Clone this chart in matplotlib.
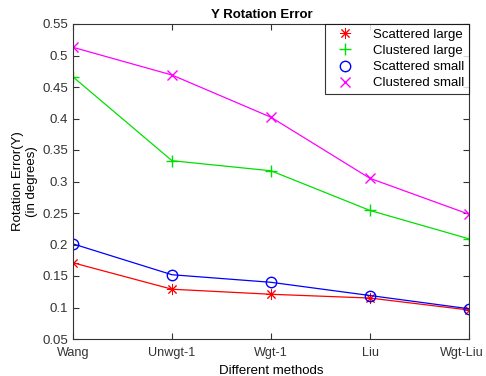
import numpy as np
import matplotlib
matplotlib.use('Agg')
import matplotlib.pyplot as plt
import matplotlib.transforms as mtransforms

plt.rcParams['font.family'] = ['Liberation Sans', 'DejaVu Sans']

methods = ['Wang', 'Unwgt-1', 'Wgt-1', 'Liu', 'Wgt-Liu']
scattered_large = [0.171, 0.129, 0.121, 0.115, 0.096]
clustered_large = [0.466, 0.333, 0.317, 0.254, 0.209]
scattered_small = [0.201, 0.152, 0.140, 0.119, 0.098]
clustered_small = [0.513, 0.469, 0.402, 0.305, 0.248]

x = np.arange(len(methods))

fig = plt.figure(figsize=(4.86, 3.76), dpi=100)
ax = fig.add_axes([73/486, 1-339/376, (469-73)/486, (339-24)/376])

ax.plot(x, scattered_large, '-', marker=(8, 2, 0), color='red', ms=8, mew=0.7, lw=0.9, label='Scattered large')
ax.plot(x, clustered_large, '-+', color='#00e000', ms=8.5, mew=1.0, lw=0.9, label='Clustered large')
ax.plot(x, scattered_small, '-o', color='blue', ms=7.5, mfc='none', mew=1.0, lw=0.9, label='Scattered small')
ax.plot(x, clustered_small, '-x', color='magenta', ms=6.5, mew=1.0, lw=0.9, label='Clustered small')

ax.set_xlim(0, 4)
ax.set_ylim(0.05, 0.55)
ax.set_xticks(x)
ax.set_xticklabels(methods)
ax.set_yticks(np.arange(0.05, 0.551, 0.05))
ax.set_yticklabels(['0.05', '0.1', '0.15', '0.2', '0.25', '0.3', '0.35', '0.4', '0.45', '0.5', '0.55'])
ax.tick_params(direction='in', top=True, right=True, labelsize=9.5, colors='#333333', length=4)
ax.tick_params(axis='x', pad=6, labelsize=9.1)
for s in ax.spines.values():
    s.set_color('#333333')

# nudge the last label left so it stays inside the figure
last = ax.get_xticklabels()[-1]
last.set_transform(last.get_transform() + mtransforms.ScaledTranslation(-7/100, 0, fig.dpi_scale_trans))

ax.set_title('Y Rotation Error', fontsize=9.5, fontweight='bold', pad=4, x=0.477)
ax.set_xlabel('Different methods', fontsize=9.5, labelpad=4)
ax.set_ylabel('Rotation Error(Y)\n(in degrees)', fontsize=9.5, labelpad=3)

leg = ax.legend(loc='upper right', fontsize=9.5, fancybox=False, edgecolor='black',
                borderaxespad=0, handlelength=2.4, borderpad=0.35, labelspacing=0.3,
                handletextpad=0.9)
leg.get_frame().set_linewidth(0.8)
for h in leg.legend_handles:
    h.set_linestyle('none')

fig.savefig('out.png', dpi=100)
